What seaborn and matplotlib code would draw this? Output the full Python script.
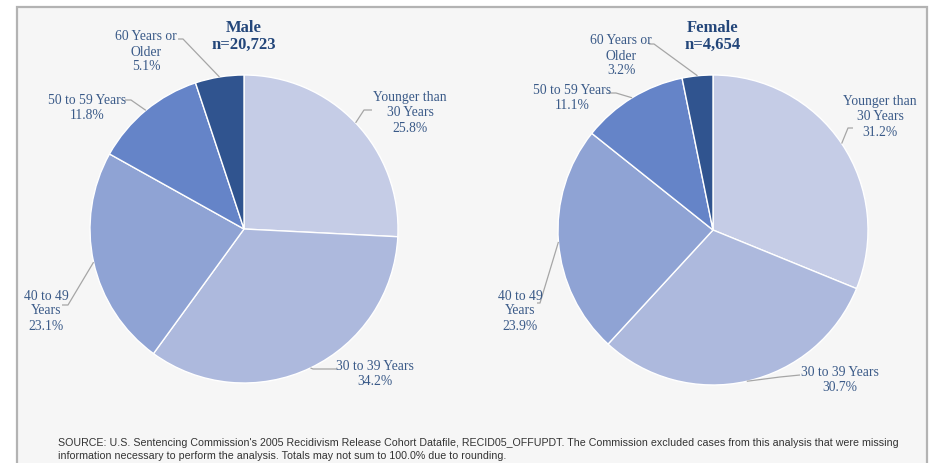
import numpy as np
import matplotlib
matplotlib.use("Agg")
import matplotlib.pyplot as plt
import seaborn as sns
from matplotlib.patches import Rectangle

# === Data ===
age_groups = ["Younger than\n30 Years", "30 to 39 Years", "40 to 49\nYears",
              "50 to 59 Years", "60 Years or\nOlder"]
male_pct = [25.8, 34.2, 23.1, 11.8, 5.1]
female_pct = [31.2, 30.7, 23.9, 11.1, 3.2]
panel_titles = ["Male\nn=20,723", "Female\nn=4,654"]
slice_colors = ["#c5cce6", "#adb9dd", "#8fa3d4", "#6584c8", "#30548f"]
source_note = ("SOURCE: U.S. Sentencing Commission's 2005 Recidivism Release Cohort Datafile, RECID05_OFFUPDT. "
               "The Commission excluded cases from this analysis that were missing\n"
               "information necessary to perform the analysis. Totals may not sum to 100.0% due to rounding.")

W, H = 934, 464

# label layout in pixels (text x, text y, elbow x, elbow y, end x, end y)
male_layout = [
    (410, 113, 364, 111, 372, 111),
    (375, 374, 313, 370, 337, 370),
    (46, 311, 68, 306, 62, 306),
    (87, 108, 131, 101, 125, 101),
    (146, 52, 183, 40, 178, 40),
]
female_layout = [
    (880, 117, 848, 129, 853, 129),
    (840, 380, 780, 378, 800, 376),
    (520, 311, 540, 304, 537, 304),
    (572, 98, 616, 94, 608, 94),
    (621, 56, 654, 45, 649, 45),
]

sns.set_theme(style="white")
plt.rcParams["font.family"] = ["Liberation Serif", "DejaVu Serif"]

label_color = "#3a5a88"
title_color = "#23467a"
line_color = "#a6a6a6"

fig = plt.figure(figsize=(W / 100, H / 100), dpi=100)
fig.patch.set_facecolor("white")
ax = fig.add_axes([0, 0, 1, 1])

# === Background box ===
ax.add_patch(Rectangle((16.5, -5), 910.5, H - 7.5 + 5, facecolor="#f6f6f6",
                       edgecolor="#b3b3b3", linewidth=1.6, zorder=0))

panels = [
    (male_pct, (244, H - 230), 154, male_layout, 244),
    (female_pct, (713, H - 231), 155, female_layout, 713),
]

for values, center, radius, layout, title_x in panels:
    wedges, _ = ax.pie(values, colors=slice_colors, startangle=90, counterclock=False,
                       center=center, radius=radius,
                       wedgeprops=dict(edgecolor="white", linewidth=1.0))
    for w in wedges:
        w.set_zorder(2)
    for w, grp, pct, (tx, ty, ex, ey, lx, ly) in zip(wedges, age_groups, values, layout):
        mid = np.deg2rad((w.theta1 + w.theta2) / 2)
        px = center[0] + radius * np.cos(mid)
        py = center[1] + radius * np.sin(mid)
        ax.plot([px, ex, lx], [py, H - ey, H - ly], color=line_color, lw=0.9,
                zorder=3, solid_capstyle="butt")
        ax.text(tx, H - ty, f"{grp}\n{pct:.1f}%", ha="center", va="center",
                multialignment="center", fontsize=9.8, color=label_color,
                linespacing=1.2, zorder=4)

for title, (_, _, _, _, tx) in zip(panel_titles, panels):
    ax.text(tx, H - 36.5, title, ha="center", va="center", fontsize=12,
            fontweight="bold", color=title_color, linespacing=1.1)

ax.text(58, H - 438, source_note, ha="left", va="top", fontsize=7.7,
        family=["Liberation Sans", "DejaVu Sans"], color="#333333", linespacing=1.35)

ax.set_xlim(0, W)
ax.set_ylim(0, H)
ax.set_aspect("equal")
ax.axis("off")

fig.savefig("out.png", dpi=100, facecolor="white")
